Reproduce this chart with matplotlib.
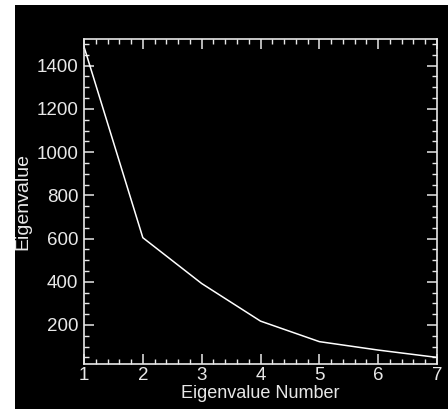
import matplotlib
matplotlib.use("Agg")
import matplotlib.pyplot as plt
from matplotlib import ticker
from matplotlib.patches import Rectangle

# 固有値
eig_num = [1, 2, 3, 4, 5, 6, 7]
eig_val = [1488, 604, 392, 218, 123, 84, 50]

x_ticks = [1, 2, 3, 4, 5, 6, 7]
y_ticks = [200, 400, 600, 800, 1000, 1200, 1400]

plt.rcParams['font.family'] = ['Liberation Sans', 'DejaVu Sans']
fg = '#e8e8e8'

fig = plt.figure(figsize=(4.48, 4.09), dpi=100, facecolor='white')
# 黒い背景（左と上に白い余白あり）
fig.patches.append(Rectangle((15/448, 0), 1, (409-5)/409, transform=fig.transFigure,
                             facecolor='black', edgecolor='none', zorder=-10))

ax = fig.add_axes([84/448, 45/409, (437-84)/448, (364-39)/409])
ax.set_facecolor('black')

ax.plot(eig_num, eig_val, color='white', lw=1.1)

ax.set_xlim(1, 7)
ax.set_ylim(19.5, 1523.5)

ax.xaxis.set_major_locator(ticker.FixedLocator(x_ticks))
ax.yaxis.set_major_locator(ticker.FixedLocator(y_ticks))
ax.xaxis.set_minor_locator(ticker.MultipleLocator(0.2))
ax.yaxis.set_minor_locator(ticker.MultipleLocator(50))

for s in ax.spines.values():
    s.set_color(fg)
    s.set_linewidth(1.2)

ax.tick_params(which='both', direction='in', top=True, right=True, colors=fg,
               labelsize=13.5)
ax.tick_params(which='major', length=7, width=1.1, pad=2)
ax.tick_params(which='minor', length=3.5, width=1.0)
ax.tick_params(axis='y', which='major', pad=4)

ax.set_xlabel('Eigenvalue Number', color=fg, fontsize=13)
ax.xaxis.set_label_coords(0.5, -0.066)
ax.set_ylabel('Eigenvalue', color=fg, fontsize=14)
ax.yaxis.set_label_coords(-0.148, 0.5)

fig.savefig("out.png", dpi=100, facecolor=fig.get_facecolor())
